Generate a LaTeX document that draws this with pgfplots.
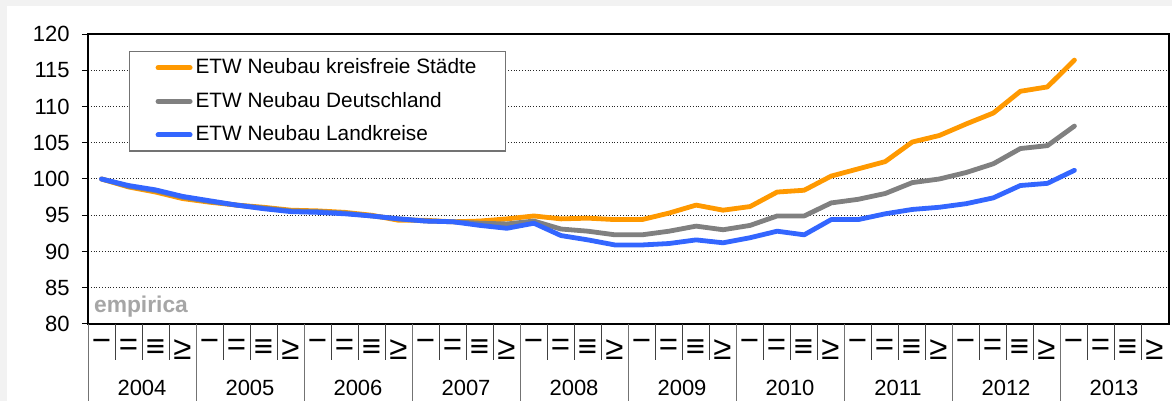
\documentclass[border=0pt]{standalone}
\usepackage{pgfplots}
\pgfplotsset{compat=1.18}
\usepackage{fontspec}
\setmainfont{Liberation Sans}
\definecolor{cOrange}{HTML}{FF9900}
\definecolor{cGray}{HTML}{808080}
\definecolor{cBlue}{HTML}{3366FF}
\definecolor{bg}{HTML}{F2F2F2}
\newcommand\qlab[1]{\ifcase#1 −\or =\or ≡\or ≥\fi}
\pgfplotstableread{
i orange gray blue
0 100.0 100.0 100.0
1 98.9 99.0 99.1
2 98.2 98.4 98.5
3 97.3 97.5 97.6
4 96.8 96.9 97.0
5 96.4 96.4 96.4
6 96.1 96.0 95.9
7 95.7 95.6 95.5
8 95.6 95.5 95.4
9 95.4 95.3 95.2
10 95.0 94.9 94.9
11 94.3 94.5 94.5
12 94.3 94.2 94.2
13 94.1 94.1 94.1
14 94.2 93.9 93.6
15 94.5 93.8 93.2
16 94.9 94.2 93.9
17 94.5 93.1 92.2
18 94.6 92.8 91.6
19 94.4 92.3 90.9
20 94.4 92.3 90.9
21 95.3 92.8 91.1
22 96.4 93.5 91.6
23 95.7 93.0 91.2
24 96.2 93.6 91.9
25 98.2 94.9 92.8
26 98.45 94.9 92.3
27 100.4 96.7 94.4
28 101.4 97.2 94.4
29 102.4 98.0 95.2
30 105.1 99.5 95.8
31 106.0 100.0 96.1
32 107.6 100.9 96.6
33 109.1 102.1 97.4
34 112.1 104.2 99.1
35 112.7 104.6 99.4
36 116.4 107.3 101.2
}\datatable
\begin{document}
\begin{tikzpicture}[x=1pt,y=1pt]
\useasboundingbox (0,0) rectangle (586,200.5);
\fill[bg] (0,0) rectangle (586,200.5);
\fill[white] (3.5,0) rectangle (586,197.5);
\begin{axis}[
  at={(44pt,38.5pt)}, anchor=south west,
  scale only axis, width=540.5pt, height=145pt,
  xmin=-0.5, xmax=39.5, ymin=80, ymax=120,
  xtick=\empty,
  ytick={80,85,...,120},
  ymajorgrids,
  major grid style={densely dotted, black!85, line width=0.5pt},
  tick align=outside, ytick pos=left, major tick length=3pt,
  tick style={black, line width=0.5pt},
  axis line style={black, line width=0.8pt},
  yticklabel style={font=\fontsize{11}{13}\selectfont, inner sep=0pt, xshift=-6pt},
  /pgf/number format/assume math mode=true,
  legend cell align=left,
  legend style={at={(0.0379,0.941)}, anchor=north west, draw=black!55, line width=0.6pt,
    fill=white, inner xsep=13pt, inner ysep=2pt, row sep=4.75pt,
    font=\fontsize{10.4}{12}\selectfont, nodes={inner sep=1.5pt}},
  legend image code/.code={\draw[#1,line width=2.5pt] (0pt,0pt) -- (16pt,0pt);},
  every axis plot/.append style={line width=2.4pt, line join=round, line cap=round, mark=none},
]
\addplot[cOrange] table[x=i,y=orange] {\datatable};
\addlegendentry{ETW Neubau kreisfreie Städte}
\addplot[cGray] table[x=i,y=gray] {\datatable};
\addlegendentry{ETW Neubau Deutschland}
\addplot[cBlue] table[x=i,y=blue] {\datatable};
\addlegendentry{ETW Neubau Landkreise}
\end{axis}
\node[font=\bfseries\fontsize{11.4}{13}\selectfont, text=black!35] at (70.5,47.25) {empirica};
\foreach \j in {1,...,39} {\draw[black!75, line width=0.5pt] ({44+13.5*\j},38.5) -- ++(0,-18);}
\foreach \k in {0,...,9} {\draw[black!55, line width=0.5pt] ({44+54*\k},38.5) -- ({44+54*\k},0);}
\foreach \i in {0,...,39} {
  \pgfmathtruncatemacro\q{mod(\i,4)}
  \node[anchor=north, inner sep=0pt, font=\fontsize{16.5}{18}\selectfont] at ({50.75+13.5*\i},31) {\qlab{\q}};
}
\foreach \k in {0,...,9} {
  \pgfmathtruncatemacro\yr{2004+\k}
  \node[font=\fontsize{11}{13}\selectfont] at ({71+54*\k},6.75) {\yr};
}
\end{tikzpicture}
\end{document}
